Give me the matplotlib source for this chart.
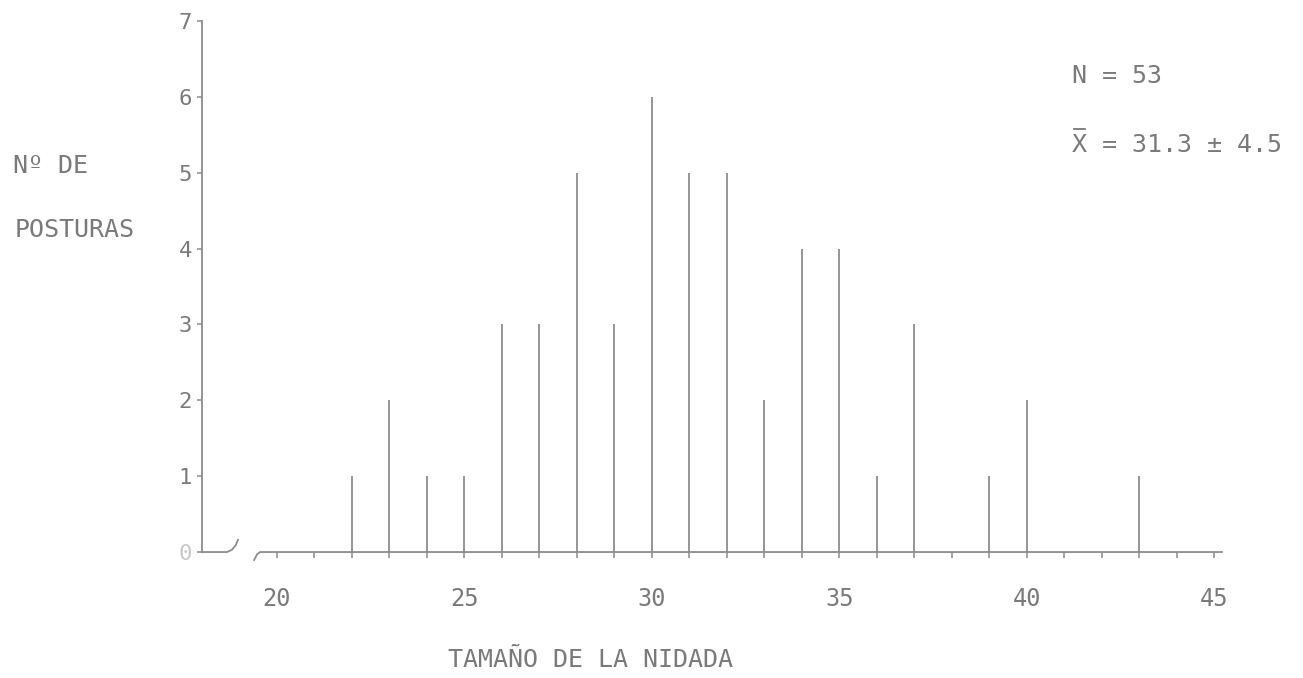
import matplotlib
matplotlib.use("Agg")
import matplotlib.pyplot as plt
from matplotlib.lines import Line2D

# clutch size -> number of clutches
sizes = [22, 23, 24, 25, 26, 27, 28, 29, 30, 31, 32, 33, 34, 35, 36, 37, 39, 40, 43]
counts = [1, 2, 1, 1, 3, 3, 5, 3, 6, 5, 5, 2, 4, 4, 1, 3, 1, 2, 1]

x_ticks = list(range(20, 46))
x_labels = [20, 25, 30, 35, 40, 45]
y_ticks = [0, 1, 2, 3, 4, 5, 6, 7]

LINE = "#8c8c8c"
TEXT = "#7a7a7a"
FONT = "DejaVu Sans Mono"

plt.rcParams["font.family"] = [FONT, "DejaVu Sans"]

fig = plt.figure(figsize=(13.03, 6.78), dpi=100)
ax = fig.add_axes([0.1550, 0.1858, 0.7828, 0.7832])

xmin, xmax = 18, 45.2
ax.set_xlim(xmin, xmax)
ax.set_ylim(0, 7)

ax.vlines(sizes, 0, counts, color=LINE, linewidth=1.3, clip_on=False)

# broken axes at the origin
ax.plot([xmin, 18.67, 18.8, 18.9, 18.96], [0, 0, 0.03, 0.09, 0.16],
        color=LINE, linewidth=1.3, clip_on=False)
ax.plot([19.39, 19.47, 19.55, xmax], [-0.105, -0.03, 0, 0],
        color=LINE, linewidth=1.3, clip_on=False)

for side in ["top", "right", "bottom"]:
    ax.spines[side].set_visible(False)
ax.spines["left"].set_color(LINE)
ax.spines["left"].set_linewidth(1.3)

ax.set_xticks(x_ticks)
ax.set_xticklabels([str(v) if v in x_labels else "" for v in x_ticks])
ax.tick_params(axis="x", direction="out", length=4, width=1.1, color=LINE,
               pad=21, labelsize=17, labelcolor=TEXT)

ax.set_yticks(y_ticks)
ax.set_yticklabels([str(v) for v in y_ticks])
ax.tick_params(axis="y", direction="out", length=3.6, width=1.1, color=LINE,
               pad=3.5, labelsize=16, labelcolor=TEXT)
ax.get_yticklabels()[0].set_color("#c8c8c8")

W, H = 1303, 678


def fig_text(px, py, s, **kw):
    fig.text(px / W, 1 - py / H, s, color=TEXT, fontsize=18, va="center", **kw)


fig_text(13, 166, "Nº DE", ha="left")
fig_text(15, 230, "POSTURAS", ha="left")
fig_text(1072, 76, "N = 53", ha="left")
fig_text(1072, 145, "X = 31.3 ± 4.5", ha="left")
fig_text(590, 660, "TAMAÑO DE LA NIDADA", ha="center")

# bar over the X of the mean
fig.add_artist(Line2D([1074 / W, 1085 / W], [1 - 129 / H, 1 - 129 / H],
                      color=TEXT, linewidth=1.3))

fig.savefig("out.png", dpi=100, facecolor="white")
